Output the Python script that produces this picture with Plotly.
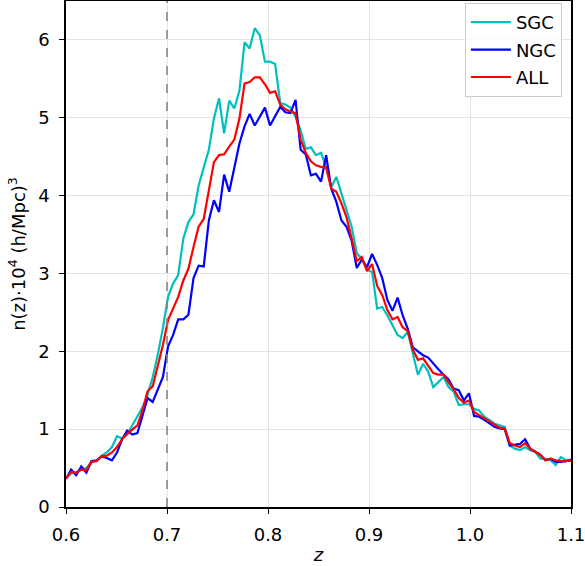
import numpy as np
import plotly.graph_objects as go

# redshift bin positions (100 bins spanning 0.6 - 1.1)
z = np.linspace(0.6, 1.1, 100)

sgc = [0.37, 0.43, 0.45, 0.47, 0.50, 0.58, 0.59, 0.66, 0.70, 0.77,
       0.91, 0.88, 0.93, 1.05, 1.16, 1.28, 1.44, 1.67, 1.96, 2.30,
       2.70, 2.87, 2.98, 3.45, 3.66, 3.76, 4.13, 4.35, 4.59, 4.99,
       5.25, 4.80, 5.22, 5.12, 5.35, 5.97, 5.89, 6.15, 6.06, 5.72,
       5.72, 5.69, 5.19, 5.17, 5.13, 5.01, 4.84, 4.60, 4.62, 4.52,
       4.55, 4.37, 4.11, 4.24, 4.03, 3.83, 3.60, 3.26, 3.19, 3.05,
       3.02, 2.55, 2.57, 2.46, 2.34, 2.21, 2.17, 2.25, 1.97, 1.70,
       1.84, 1.74, 1.54, 1.61, 1.67, 1.54, 1.48, 1.31, 1.32, 1.32,
       1.26, 1.24, 1.16, 1.12, 1.07, 1.05, 1.03, 0.79, 0.75, 0.73,
       0.77, 0.73, 0.71, 0.62, 0.62, 0.60, 0.54, 0.64, 0.60, 0.61]

ngc = [0.36, 0.48, 0.41, 0.52, 0.44, 0.59, 0.60, 0.65, 0.63, 0.60,
       0.70, 0.87, 0.98, 0.93, 0.95, 1.18, 1.40, 1.35, 1.50, 1.67,
       2.06, 2.21, 2.41, 2.41, 2.47, 2.94, 3.10, 3.09, 3.68, 3.94,
       3.79, 4.27, 4.05, 4.35, 4.67, 4.89, 5.05, 4.90, 5.01, 5.13,
       4.90, 5.02, 5.14, 5.07, 5.06, 5.23, 4.59, 4.53, 4.26, 4.28,
       4.18, 4.52, 4.09, 3.92, 3.68, 3.60, 3.42, 3.07, 3.18, 3.08,
       3.25, 3.11, 2.94, 2.66, 2.52, 2.69, 2.46, 2.29, 2.05, 2.00,
       1.95, 1.92, 1.84, 1.77, 1.70, 1.64, 1.52, 1.50, 1.37, 1.46,
       1.17, 1.16, 1.12, 1.07, 1.03, 1.01, 1.00, 0.79, 0.80, 0.81,
       0.87, 0.75, 0.71, 0.67, 0.60, 0.62, 0.58, 0.58, 0.59, 0.60]

all_ = [0.37, 0.45, 0.44, 0.48, 0.47, 0.58, 0.59, 0.65, 0.66, 0.70,
        0.77, 0.87, 0.94, 0.99, 1.05, 1.24, 1.49, 1.55, 1.80, 2.08,
        2.40, 2.55, 2.70, 2.91, 3.06, 3.34, 3.60, 3.70, 4.09, 4.43,
        4.52, 4.53, 4.63, 4.72, 4.99, 5.44, 5.46, 5.52, 5.52, 5.43,
        5.32, 5.34, 5.17, 5.11, 5.08, 5.06, 4.72, 4.55, 4.44, 4.39,
        4.37, 4.36, 4.09, 4.05, 3.90, 3.72, 3.45, 3.16, 3.21, 3.03,
        3.12, 2.84, 2.72, 2.53, 2.41, 2.44, 2.31, 2.26, 2.02, 1.89,
        1.91, 1.82, 1.72, 1.70, 1.70, 1.60, 1.51, 1.40, 1.34, 1.37,
        1.22, 1.18, 1.14, 1.09, 1.05, 1.02, 1.01, 0.82, 0.79, 0.77,
        0.82, 0.75, 0.71, 0.67, 0.60, 0.62, 0.60, 0.59, 0.59, 0.60]

series_names = ["SGC", "NGC", "ALL"]
series_colors = ["#00BFBF", "#0000FF", "#FF0000"]

x_tickvals = [0.6, 0.7, 0.8, 0.9, 1.0, 1.1]
x_ticktext = ["0.6", "0.7", "0.8", "0.9", "1.0", "1.1"]
y_tickvals = [0, 1, 2, 3, 4, 5, 6]
y_ticktext = ["0", "1", "2", "3", "4", "5", "6"]
z_cut = 0.7

FONT = "DejaVu Sans"

fig = go.Figure()
for name, vals, col in zip(series_names, [sgc, ngc, all_], series_colors):
    fig.add_trace(go.Scatter(x=z, y=vals, mode="lines", name=name, legendgroup=name,
                             line=dict(color=col, width=2.2)))

fig.add_shape(type="line", xref="x", yref="paper", x0=z_cut, x1=z_cut, y0=0, y1=1,
              line=dict(color="#808080", width=1.5, dash="dash"), layer="above")

axis_common = dict(showline=True, linecolor="black", linewidth=1.5, mirror=True,
                   ticks="outside", ticklen=5, tickwidth=1.3, tickcolor="black",
                   showgrid=True, gridcolor="#e4e4e4", gridwidth=1, automargin=False,
                   zeroline=False, ticklabeloverflow="allow",
                   tickfont=dict(family=FONT, size=18, color="black"))

fig.update_xaxes(range=[0.6, 1.1], tickvals=x_tickvals, ticktext=x_ticktext,
                 title=dict(text="<i>z</i>", font=dict(family=FONT, size=18, color="black"), standoff=4),
                 ticklabelstandoff=6, **axis_common)
fig.update_yaxes(range=[0, 6.5], tickvals=y_tickvals, ticktext=y_ticktext,
                 title=dict(text="n(z)·10<sup>4</sup> (h/Mpc)<sup>3</sup>",
                            font=dict(family=FONT, size=18, color="black"), standoff=8),
                 ticklabelstandoff=6, **axis_common)

fig.update_layout(
    width=585, height=566,
    margin=dict(l=66, r=14, t=1, b=59),
    paper_bgcolor="white", plot_bgcolor="white",
    font=dict(family=FONT, size=18, color="black"),
    showlegend=True,
    legend=dict(x=0.982, y=0.996, xanchor="right", yanchor="top",
                bgcolor="rgba(255,255,255,0.8)", bordercolor="#cccccc", borderwidth=1,
                tracegroupgap=1, itemwidth=40,
                font=dict(family=FONT, size=18, color="black")),
)

fig.write_html("out.html", config={"displayModeBar": False},
               post_script="document.body.style.margin='0px';document.body.style.overflow='hidden';")
